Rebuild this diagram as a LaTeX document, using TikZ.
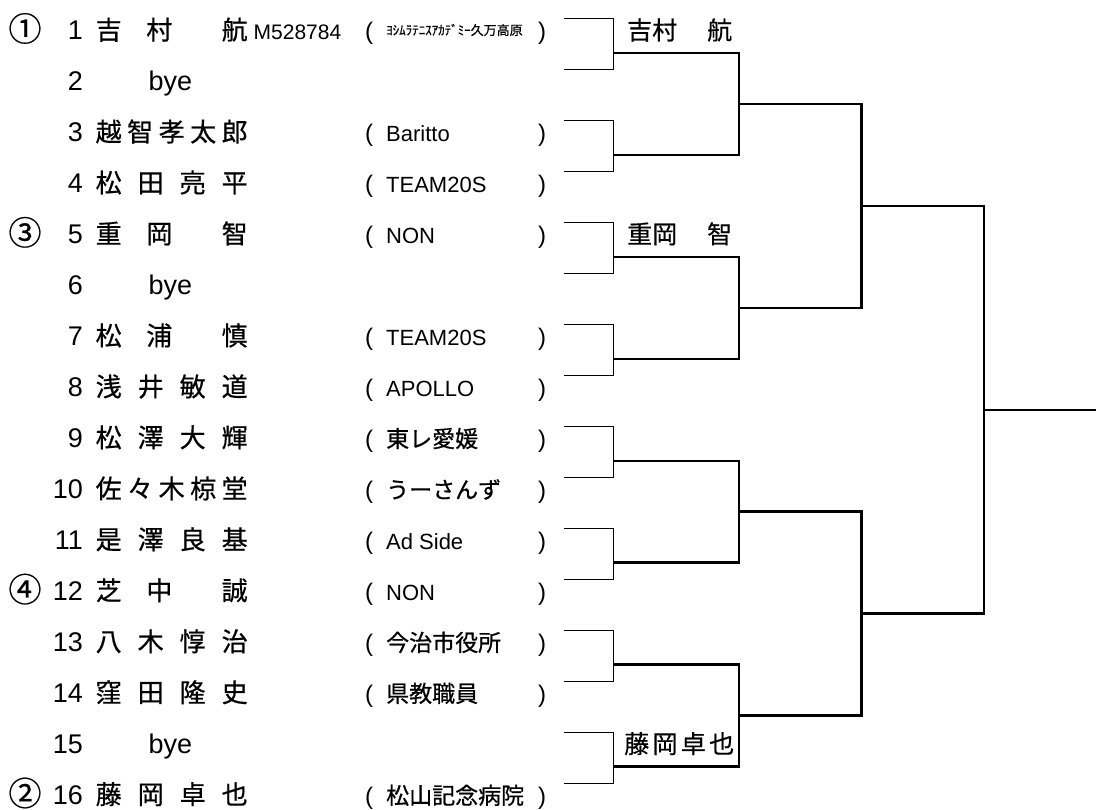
\documentclass[tikz,border=0pt]{standalone}
\usepackage{fontspec}
\setmainfont{Liberation Sans}
\newfontfamily\jp[FakeBold=0.6]{Noto Sans CJK JP}
\usetikzlibrary{calc}
\newcommand\ja{\jp\fontsize{23}{28}\selectfont}
\def\dy{50.97}

\begin{document}
\begin{tikzpicture}[x=1pt,y=-1pt,
  seed/.style={font=\jp\fontsize{33}{36}\selectfont,anchor=base,inner sep=0pt,yshift=-1.5pt},
  num/.style={font=\fontsize{27}{30}\selectfont,anchor=base east,inner sep=0pt},
  player/.style={font=\jp\fontsize{26}{30}\selectfont,anchor=base west,inner sep=0pt},
  club/.style={font=\fontsize{22}{26}\selectfont,anchor=base west,inner sep=0pt},
  paren/.style={font=\fontsize{24}{28}\selectfont,anchor=base west,inner sep=0pt},
  winner/.style={font=\jp\fontsize{25}{30}\selectfont,anchor=base west,inner sep=0pt},
  thinline/.style={line width=1pt},
  thickline/.style={line width=2.5pt}]
\useasboundingbox (0,0) rectangle (1096,810);

% entries
\foreach \i/\who/\from in {
  1/{吉\hfill 村\hfill\hfill 航}/{\raisebox{4.5pt}{\jp\fontsize{13}{15}\selectfont ﾖｼﾑﾗﾃﾆｽｱｶﾃﾞﾐｰ久万高原}},
  3/{越\hfill 智\hfill 孝\hfill 太\hfill 郎}/{Baritto},
  4/{松\hfill 田\hfill 亮\hfill 平}/{TEAM20S},
  5/{重\hfill 岡\hfill\hfill 智}/{NON},
  7/{松\hfill 浦\hfill\hfill 慎}/{TEAM20S},
  8/{浅\hfill 井\hfill 敏\hfill 道}/{APOLLO},
  9/{松\hfill 澤\hfill 大\hfill 輝}/{\ja 東レ愛媛},
  10/{佐\hfill 々\hfill 木\hfill 椋\hfill 堂}/{\ja うーさんず},
  11/{是\hfill 澤\hfill 良\hfill 基}/{Ad Side},
  12/{芝\hfill 中\hfill\hfill 誠}/{NON},
  13/{八\hfill 木\hfill 惇\hfill 治}/{\ja 今治市役所},
  14/{窪\hfill 田\hfill 隆\hfill 史}/{\ja 県教職員},
  16/{藤\hfill 岡\hfill 卓\hfill 也}/{\ja 松山記念病院}}
{
  \pgfmathsetmacro\yb{39.5+(\i-1)*\dy}
  \node[num] (k\i) at (83,\yb) {\i};
  \node[player] (n\i) at (95.5,\yb) {\makebox[152pt][s]{\who}};
  \node[paren] (o\i) at (365,\yb) {(};
  \node[club] (c\i) at (386,\yb) {\from};
  \node[paren] (e\i) at (538,\yb) {)};
}
\foreach \i in {2,6,15} {
  \pgfmathsetmacro\yb{39.5+(\i-1)*\dy}
  \node[num] (k\i) at (83,\yb) {\i};
  \node[num,anchor=base west] (n\i) at (148.5,\yb) {bye};
}
\foreach \i/\s in {1/①,5/③,12/④,16/②} {
  \pgfmathsetmacro\yb{39.5+(\i-1)*\dy}
  \node[seed] (sd\i) at (25,\yb) {\s};
}
\node[club,font=\fontsize{21}{24}\selectfont] (id1) at (253.5,39.5) {M528784};

% draw
\foreach \i in {1,...,16}
  \coordinate (p\i) at (564,{19+(\i-1)*\dy});
\foreach \k in {1,...,8} {
  \pgfmathtruncatemacro\a{2*\k-1}
  \pgfmathtruncatemacro\b{2*\k}
  \draw[thinline] (p\a) -- ++(49,0) |- (p\b);
  \coordinate (w\k) at ($(p\a)+(49,34)$);
}
\foreach \k in {1,...,4} {
  \pgfmathtruncatemacro\a{2*\k-1}
  \pgfmathtruncatemacro\b{2*\k}
  \coordinate (q\k) at ($(w\a)!0.5!(w\b)+(126,0)$);
  \draw[thickline] (w\a) -| (q\k) |- (w\b);
}
\coordinate (t1) at ($(q1)!0.5!(q2)+(122.5,0)$);
\coordinate (t2) at ($(q3)!0.5!(q4)+(122.5,0)$);
\draw[thickline] (q1) -| (t1) |- (q2);
\draw[thickline] (q3) -| (t2) |- (q4);
\coordinate (f) at ($(t1)!0.5!(t2)+(122.5,0)$);
\coordinate (champ) at ($(f)+(112,0)$);
\draw[thickline] (t1) -| (f) |- (t2);
\draw[thickline] (f) -- (champ);

\node[winner] (v1) at (627,39.5) {\makebox[105pt][s]{吉村\hfill 航}};
\node[winner] (v5) at (627,{39.5+4*\dy}) {\makebox[105pt][s]{重岡\hfill 智}};
\node[winner] (v16) at (624,{39.5+14*\dy}) {\makebox[110pt][s]{藤\hfill 岡\hfill 卓\hfill 也}};
\end{tikzpicture}
\end{document}
